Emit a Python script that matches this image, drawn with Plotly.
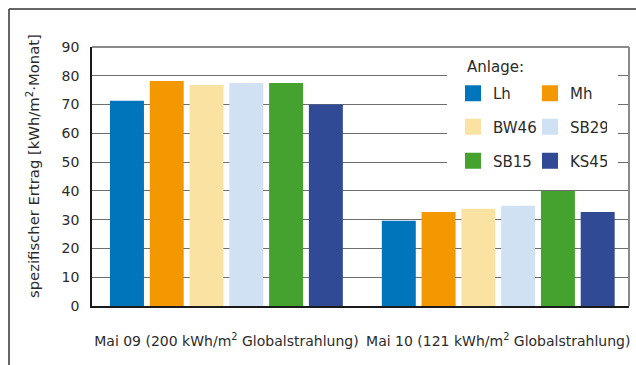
import plotly.graph_objects as go

# Monthly specific yield per installation, two months
months = ["Mai 09 (200 kWh/m<sup>2</sup> Globalstrahlung)",
          "Mai 10 (121 kWh/m<sup>2</sup> Globalstrahlung)"]
anlagen = ["Lh", "Mh", "BW46", "SB29", "SB15", "KS45"]
colors = ["#0075BC", "#F39800", "#F9E2A2", "#CFE1F2", "#45A22E", "#304A96"]
ertrag_mai09 = [71.3, 78.2, 76.8, 77.5, 77.5, 70.0]
ertrag_mai10 = [29.6, 32.7, 33.8, 34.8, 40.0, 32.7]

W, H = 636, 365
L, R, T, B = 92, 7, 47, 59
PW, PH = W - L - R, H - T - B


def px(xp):
    return (xp - L) / PW


def py(yp):
    return (H - B - yp) / PH


FONT = "DejaVu Sans"
TXT = "#2b2b2b"

fig = go.Figure()
for i, name in enumerate(anlagen):
    fig.add_trace(go.Bar(
        x=months, y=[ertrag_mai09[i], ertrag_mai10[i]], name=name,
        marker=dict(color=colors[i], line=dict(width=0)),
        showlegend=False,
    ))

# legend entries: two per row, three rows
legend_ids = ["legend", "legend", "legend2", "legend2", "legend3", "legend3"]
for i, name in enumerate(anlagen):
    fig.add_trace(go.Scatter(
        x=[None], y=[None], mode="markers", name=name,
        marker=dict(symbol="square", size=16, color=colors[i]),
        legend=legend_ids[i], showlegend=True,
    ))

row_y = [93.5, 127, 161]
leg_common = dict(
    orientation="h", xanchor="left", yanchor="middle",
    x=px(453), bgcolor="rgba(0,0,0,0)", borderwidth=0,
    font=dict(family=FONT, size=15, color=TXT),
    entrywidth=32, entrywidthmode="pixels", itemsizing="trace",
    tracegroupgap=0,
)

fig.update_layout(
    width=W, height=H,
    margin=dict(l=L, r=R, t=T, b=B),
    paper_bgcolor="white", plot_bgcolor="white",
    barmode="group", bargap=0.122, bargroupgap=0.146,
    font=dict(family=FONT, color=TXT),
    legend=dict(y=py(row_y[0]), **leg_common),
    legend2=dict(y=py(row_y[1]), **leg_common),
    legend3=dict(y=py(row_y[2]), **leg_common),
    xaxis=dict(
        type="category", range=[-0.4945, 1.481],
        showline=True, linecolor="#1a1a1a", linewidth=1.5,
        ticks="", ticklabelstandoff=21,
        tickfont=dict(family=FONT, size=14, color=TXT),
        showgrid=False, zeroline=False,
    ),
    yaxis=dict(
        range=[0, 90], dtick=10, tick0=0,
        showline=True, linecolor="#1a1a1a", linewidth=1.5,
        showgrid=True, gridcolor="#6e6e6e", gridwidth=1,
        ticks="", ticklabelstandoff=8,
        tickfont=dict(family=FONT, size=14, color=TXT),
        zeroline=False,
    ),
    showlegend=True,
)

shapes = [
    # white panel behind the legend
    dict(type="rect", xref="paper", yref="paper",
         x0=px(447), x1=px(618), y0=py(170), y1=py(48.5),
         fillcolor="white", line=dict(width=0), layer="above"),
    # top and right edge of the plot box
    dict(type="line", xref="paper", yref="paper", x0=0, x1=1, y0=1, y1=1,
         line=dict(color="#8a8a8a", width=2)),
    dict(type="line", xref="paper", yref="paper", x0=1, x1=1, y0=0, y1=1,
         line=dict(color="#8a8a8a", width=2)),
    # outer frame
    dict(type="line", xref="paper", yref="paper",
         x0=px(9), x1=px(W + 2), y0=py(9), y1=py(9),
         line=dict(color="#333333", width=1.5)),
    dict(type="line", xref="paper", yref="paper",
         x0=px(9), x1=px(9), y0=py(9), y1=py(H + 2),
         line=dict(color="#333333", width=1.5)),
]
fig.update_layout(shapes=shapes)

fig.add_annotation(
    text="Anlage:", xref="paper", yref="paper", x=px(465), y=py(67),
    xanchor="left", yanchor="middle", showarrow=False,
    font=dict(family=FONT, size=15, color=TXT),
)
fig.add_annotation(
    text="spezifischer Ertrag [kWh/m<sup>2</sup>·Monat]",
    xref="paper", yref="paper", x=px(32), y=py(166),
    xanchor="center", yanchor="middle", textangle=-90, showarrow=False,
    font=dict(family=FONT, size=14.8, color=TXT),
)

fig.write_html("out.html")
